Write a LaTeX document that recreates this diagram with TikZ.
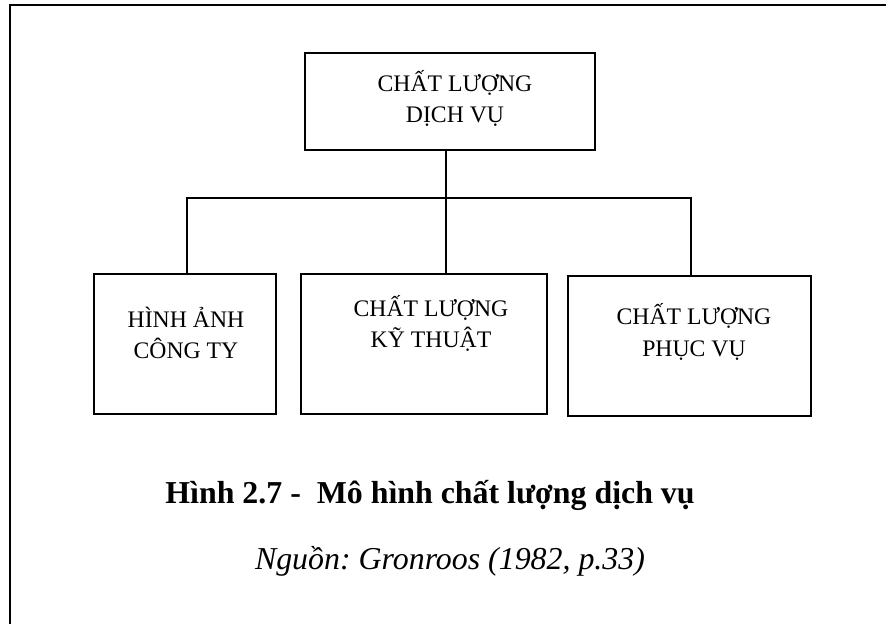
\documentclass[tikz,border=0pt]{standalone}
\usepackage{fontspec}
\setmainfont{Liberation Serif}
\frenchspacing
\begin{document}
\begin{tikzpicture}[x=1bp,y=-1bp,
  box/.style={draw=black,line width=1.6bp,inner sep=0pt,fill=none},
  link/.style={draw=black,line width=1.5bp},
  frameline/.style={draw=black,line width=2.6bp},
  boxtext/.style={anchor=base,inner sep=0pt,font=\fontsize{23.8}{28}\selectfont},
  captext/.style={anchor=base,inner sep=0pt,font=\fontsize{32}{36}\selectfont\bfseries},
  srctext/.style={anchor=base,inner sep=0pt,font=\fontsize{32}{36}\selectfont\itshape}]
\useasboundingbox (0,0) rectangle (886,624);
\fill[white] (0,0) rectangle (886,624);
% outer frame (cut by the picture edges)
\draw[frameline] (10,624) -- (10,5) -- (886,5);
% boxes
\node[box,minimum width=290bp,minimum height=97bp] (top) at (450,101.5) {};
\node[box,minimum width=182bp,minimum height=140bp] (b1) at (185,344) {};
\node[box,minimum width=246bp,minimum height=140bp] (b2) at (424,344) {};
\node[box,minimum width=243bp,minimum height=140bp] (b3) at (689.5,346) {};
% texts
\node[boxtext] (t1) at (455,92) {CHẤT LƯỢNG};
\node[boxtext] (t2) at (455,123) {DỊCH VỤ};
\node[boxtext] (a1) at (186,327) {HÌNH ẢNH};
\node[boxtext] (a2) at (186,358) {CÔNG TY};
\node[boxtext] (c1) at (431,316) {CHẤT LƯỢNG};
\node[boxtext] (c2) at (431,347) {KỸ THUẬT};
\node[boxtext] (d1) at (694,324) {CHẤT LƯỢNG};
\node[boxtext] (d2) at (694,356) {PHỤC VỤ};
\node[captext] (cap) at (430,503) {Hình 2.7 -\ \ Mô hình chất lượng dịch vụ};
\node[srctext] (src) at (450,569) {Nguồn: Gronroos (1982, p.33)};
% connectors
\coordinate (jm) at (446,198);
\coordinate (jl) at (187,198);
\coordinate (jr) at (691,198);
\draw[link] (top.south -| jm) -- (b2.north -| jm);
\draw[link] (b1.north -| jl) -- (jl) -- (jr) -- (b3.north -| jr);
\end{tikzpicture}
\end{document}
